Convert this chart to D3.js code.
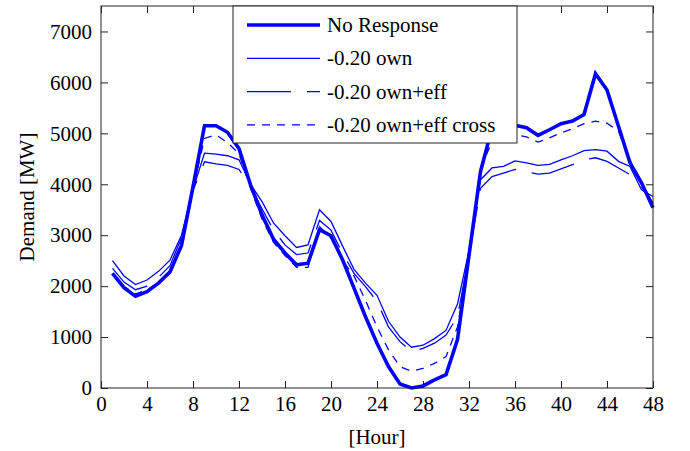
<!DOCTYPE html>
<html>
<head>
<meta charset="utf-8">
<script src="https://cdn.jsdelivr.net/npm/d3@7"></script>
<style>
body { margin: 0; background: #fff; }
svg text { font-family: "Liberation Serif", "Times New Roman", Times, serif !important; }
</style>
</head>
<body>
<div class="container"></div>
<script>
const WIDTH = 690;
const HEIGHT = 451;
const LEFT = 101;
const RIGHT = 653;
const TOP = 6;
const BOTTOM = 388;
const BLUE = '#0000ff';
const FONT = '"Liberation Serif", "Times New Roman", Times, serif';

// hours 1..48
var hours = d3.range(1, 49);
var noResponse = [2250,1970,1800,1890,2060,2280,2800,3950,5150,5150,5020,4700,
	3990,3400,2920,2650,2420,2450,3110,2990,2520,1960,1400,880,
	420,80,0,40,160,260,950,2600,4250,5100,5170,5160,5110,4960,
	5070,5190,5240,5370,6170,5850,5140,4420,4030,3540];
var ownResp = [2500,2200,2030,2120,2290,2510,3000,3900,4610,4590,4560,4480,
	4000,3660,3240,2990,2760,2810,3500,3270,2790,2330,2060,1820,
	1310,1000,800,840,970,1130,1650,2700,4090,4320,4350,4460,4420,4370,
	4390,4480,4560,4660,4680,4650,4450,4350,3890,3760];
var ownEff = [2350,2080,1930,2000,2170,2400,2950,3880,4440,4400,4370,4290,
	3950,3520,3100,2810,2620,2650,3290,3100,2650,2250,1990,1700,
	1200,910,715,780,880,1040,1400,2600,3920,4150,4220,4290,4240,4200,
	4220,4300,4385,4480,4520,4450,4320,4190,4020,3630];
var ownEffCross = [2250,1990,1850,1920,2080,2300,2850,3900,4900,4970,4820,4600,
	3920,3320,2860,2600,2370,2370,3170,2940,2500,2200,1720,1200,
	750,420,330,385,485,615,1200,2550,4300,4840,4940,4970,4930,4830,
	4910,5010,5090,5190,5240,5200,5040,4480,3960,3570];

var xTicks = [0,4,8,12,16,20,24,28,32,36,40,44,48];
var yTicks = [0,1000,2000,3000,4000,5000,6000,7000];

var seriesNames = ['No Response','-0.20 own','-0.20 own+eff','-0.20 own+eff cross'];
var seriesValues = [noResponse, ownResp, ownEff, ownEffCross];
var seriesStyle = [
	{w: 3.6, dash: null},
	{w: 1.3, dash: null},
	{w: 1.3, dash: '44,16'},
	{w: 1.3, dash: '8,7'}
];

var _svg = d3.select('.container').append('svg')
	.attr('width', WIDTH)
	.attr('height', HEIGHT)
	.attr('font-family', FONT);

var _xScale = d3.scaleLinear().domain([0,48]).range([LEFT, RIGHT]);
var _yScale = d3.scaleLinear().domain([0,7500]).range([BOTTOM, TOP]);

var styleAxis = function(g){
	g.attr('font-family', FONT).attr('font-size', 21);
	g.select('.domain').remove();
	g.selectAll('line').attr('stroke', '#222');
	g.selectAll('text').attr('fill', '#000').style('font-family', FONT);
};

_svg.append('g')
	.attr('transform', 'translate(0,' + BOTTOM + ')')
	.call(d3.axisBottom(_xScale).tickValues(xTicks).tickFormat(d3.format('d'))
		.tickSizeInner(-7).tickSizeOuter(0).tickPadding(8))
	.call(styleAxis);
_svg.append('g')
	.attr('transform', 'translate(0,' + TOP + ')')
	.call(d3.axisTop(_xScale).tickValues(xTicks).tickSizeInner(-7).tickSizeOuter(0).tickFormat(''))
	.call(styleAxis);
_svg.append('g')
	.attr('transform', 'translate(' + LEFT + ',0)')
	.call(d3.axisLeft(_yScale).tickValues(yTicks).tickFormat(d3.format('d'))
		.tickSizeInner(-7).tickSizeOuter(0).tickPadding(9))
	.call(styleAxis);
_svg.append('g')
	.attr('transform', 'translate(' + RIGHT + ',0)')
	.call(d3.axisRight(_yScale).tickValues(yTicks).tickSizeInner(-7).tickSizeOuter(0).tickFormat(''))
	.call(styleAxis);

var line = d3.line()
	.x(function(d,i){ return _xScale(hours[i]); })
	.y(function(d){ return _yScale(d); });

var lines = _svg.append('g').classed('lines', true);
// thin ones first, thick on top
[1,2,3,0].forEach(function(k){
	lines.append('path')
		.attr('d', line(seriesValues[k]))
		.attr('fill', 'none')
		.attr('stroke', BLUE)
		.attr('stroke-width', seriesStyle[k].w)
		.attr('stroke-dasharray', seriesStyle[k].dash);
});

// frame
_svg.append('rect')
	.attr('x', LEFT).attr('y', TOP)
	.attr('width', RIGHT - LEFT).attr('height', BOTTOM - TOP)
	.attr('fill', 'none').attr('stroke', '#222').attr('stroke-width', 1);

// legend
var leg = _svg.append('g').attr('transform', 'translate(233,' + TOP + ')');
leg.append('rect')
	.attr('width', 284).attr('height', 137)
	.attr('fill', '#fff').attr('stroke', '#222').attr('stroke-width', 1);
seriesNames.forEach(function(name, i){
	var yy = 19 + i * 33.3;
	leg.append('line')
		.attr('x1', 14).attr('x2', 87).attr('y1', yy).attr('y2', yy)
		.attr('stroke', BLUE)
		.attr('stroke-width', seriesStyle[i].w)
		.attr('stroke-dasharray', seriesStyle[i].dash);
	leg.append('text')
		.attr('x', 94).attr('y', yy + 7)
		.attr('font-size', 21)
		.style('font-family', FONT)
		.text(name);
});

// axis titles
_svg.append('text')
	.attr('x', (LEFT + RIGHT) / 2).attr('y', 444)
	.attr('text-anchor', 'middle').attr('font-size', 21)
	.style('font-family', FONT)
	.text('[Hour]');
_svg.append('text')
	.attr('transform', 'translate(34,' + ((TOP + BOTTOM) / 2) + ') rotate(-90)')
	.attr('text-anchor', 'middle').attr('font-size', 21)
	.style('font-family', FONT)
	.text('Demand [MW]');
</script>
</body>
</html>
